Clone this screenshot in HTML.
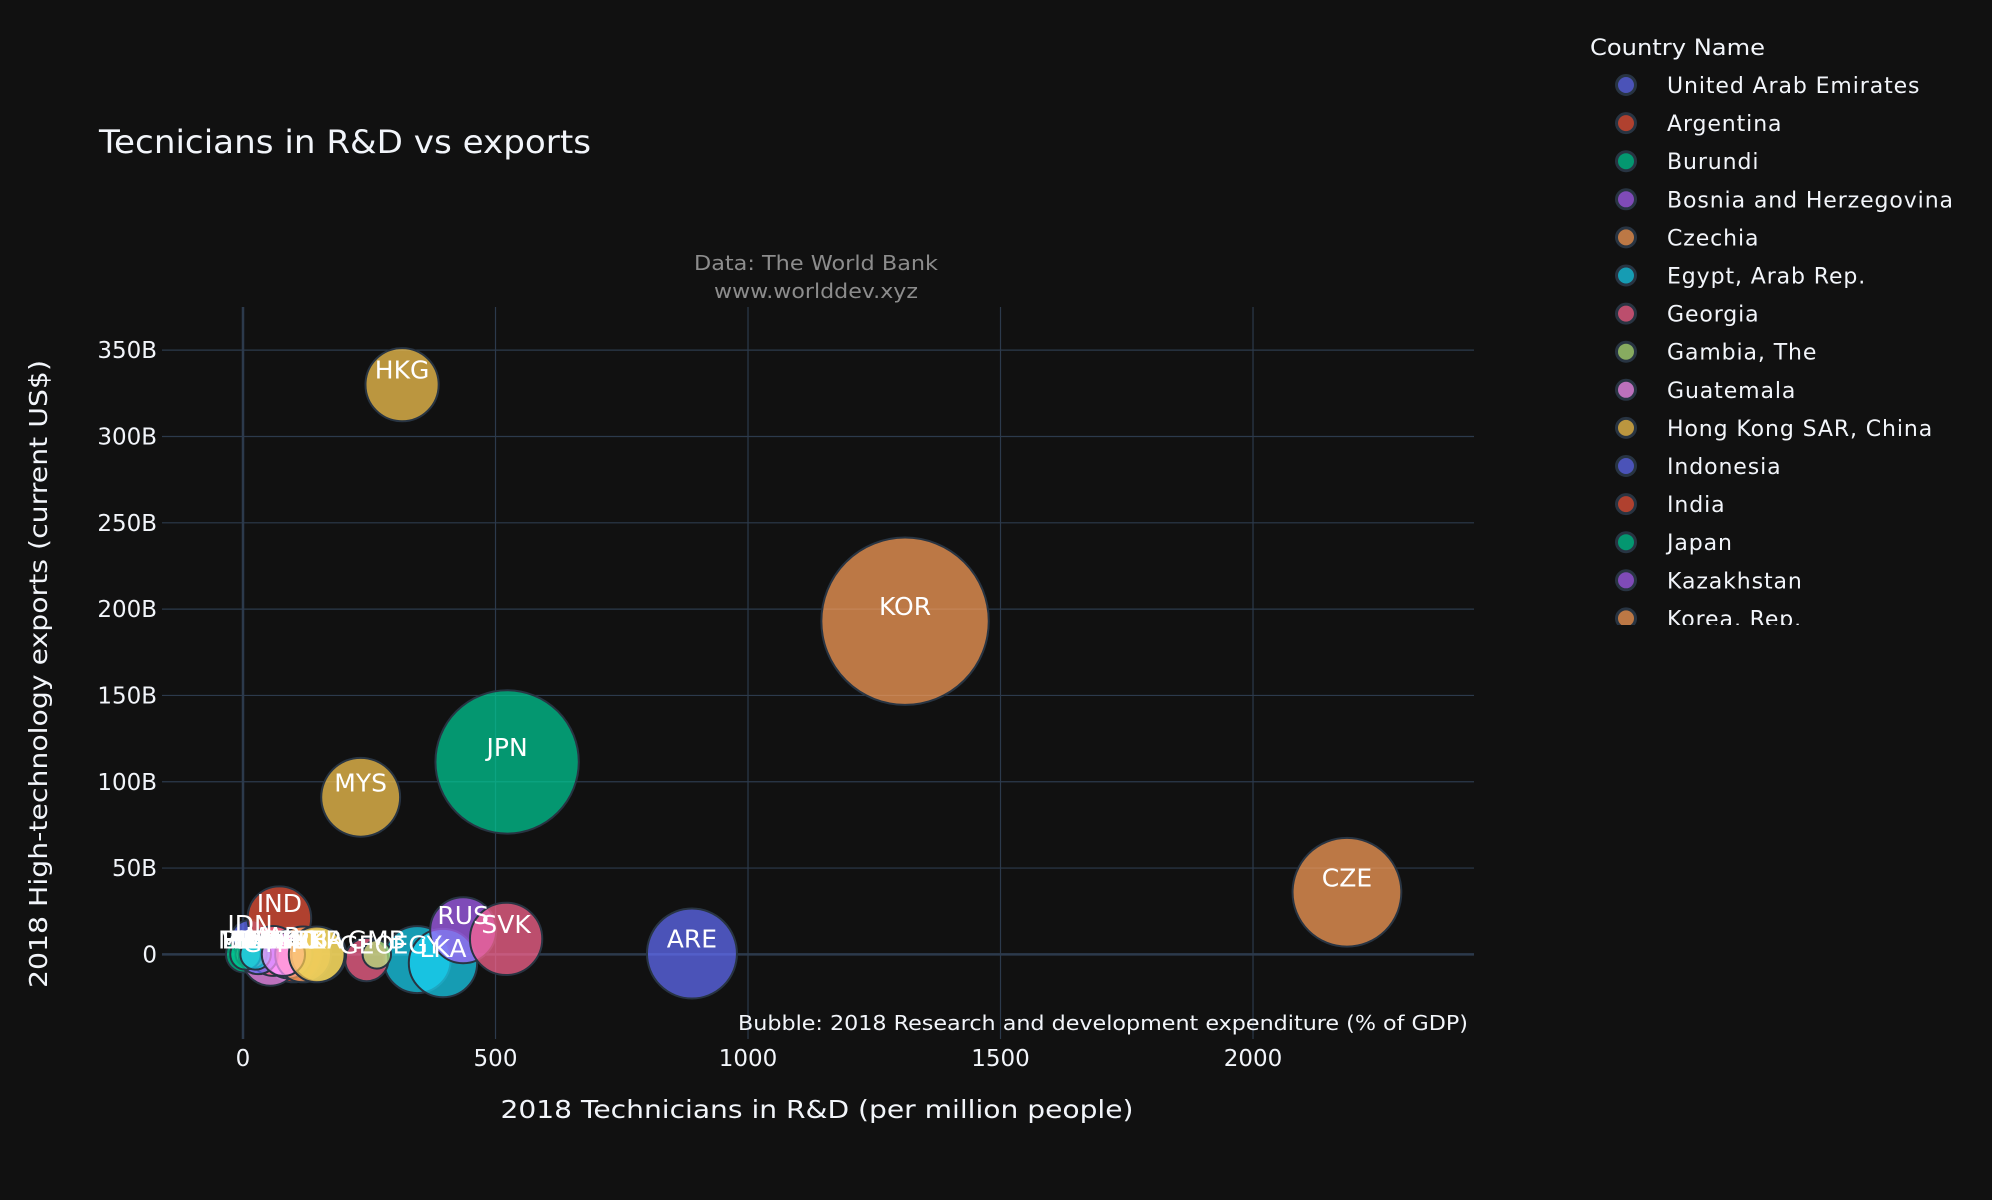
<!DOCTYPE html>
<html><head><meta charset="utf-8"><style>
html,body{margin:0;padding:0;background:#111111;}
svg{display:block;font-family:"DejaVu Sans","Liberation Sans",sans-serif;}
</style></head><body>
<svg id="chart" width="1992" height="1200" viewBox="0 0 1992 1200" xmlns="http://www.w3.org/2000/svg">
<rect x="0" y="0" width="1992" height="1200" fill="#111111"/>
<g id="grid"></g>
<g id="marks"></g>
<g id="labels"></g>
<g id="axes"></g>
<text x="99" y="153" font-size="32" fill="#f2f5fa" textLength="492" lengthAdjust="spacingAndGlyphs">Tecnicians in R&amp;D vs exports</text>
<text x="816" y="270" font-size="20" fill="#8c8c8c" text-anchor="middle" textLength="244" lengthAdjust="spacingAndGlyphs">Data: The World Bank</text>
<text x="816" y="298" font-size="20" fill="#8c8c8c" text-anchor="middle" textLength="204" lengthAdjust="spacingAndGlyphs">www.worlddev.xyz</text>
<text x="1468" y="1030" font-size="20" fill="#f2f5fa" text-anchor="end" textLength="730" lengthAdjust="spacingAndGlyphs">Bubble: 2018 Research and development expenditure (% of GDP)</text>
<text x="817" y="1118" font-size="25" fill="#f2f5fa" text-anchor="middle" textLength="633" lengthAdjust="spacingAndGlyphs">2018 Technicians in R&amp;D (per million people)</text>
<text transform="translate(47,674) rotate(-90)" font-size="25" fill="#f2f5fa" text-anchor="middle" textLength="628" lengthAdjust="spacingAndGlyphs">2018 High-technology exports (current US$)</text>
<text x="1590" y="55" font-size="22" fill="#f2f5fa" textLength="175" lengthAdjust="spacingAndGlyphs">Country Name</text>
<defs><clipPath id="legclip"><rect x="1580" y="62" width="412" height="563"/></clipPath></defs>
<g id="legend" clip-path="url(#legclip)"></g>
</svg>
<script>
const codes = ["ARE","ARG","BDI","BIH","CZE","EGY","GEO","GMB","GTM","HKG","IDN","IND","JPN","KAZ","KOR","LKA","MAR","MDG","MKD","MYS","PAK","PER","PHL","RUS","SRB","SLV","SVK","THA","TUN","UKR"];
const names = ["United Arab Emirates","Argentina","Burundi","Bosnia and Herzegovina","Czechia","Egypt, Arab Rep.","Georgia","Gambia, The","Guatemala","Hong Kong SAR, China","Indonesia","India","Japan","Kazakhstan","Korea, Rep.","Sri Lanka","Morocco","Madagascar","North Macedonia","Malaysia","Pakistan","Peru","Philippines","Russian Federation","Serbia","El Salvador","Slovak Republic","Thailand","Tunisia","Ukraine"];
const technicians = [889,100,2,48,2186,345,245,265,54,315,14,72,523,48,1311,396,60,10,90,233,30,20,5,436,119,25,521,150,80,146];
const exportsB = [0.5,0,0,0,36,-3,-3,0,-2,330,9,21,111.5,0,193,-5,2,0,0,91,0,0,0,14,0,0,9,0,0,0];
const rdExpend = [1.3,0.5,0.21,0.2,1.9,0.72,0.3,0.13,0.5,0.86,0.23,0.65,3.3,0.12,4.5,0.75,0.4,0.1,0.37,1.0,0.25,0.12,0.15,0.7,0.5,0.15,0.84,0.48,0.3,0.5];
const xTicks = [0,500,1000,1500,2000];
const yTicks = [0,50,100,150,200,250,300,350];
const yTickLabels = ["0","50B","100B","150B","200B","250B","300B","350B"];
const palette = ["#636efa","#EF553B","#00cc96","#ab63fa","#FFA15A","#19d3f3","#FF6692","#B6E880","#FF97FF","#FECB52"];

const NS="http://www.w3.org/2000/svg";
const L=162,R=1474,T=307,B=1039;
const xMin=-160.4,xMax=2437.6,yMin=-49,yMax=375;
function sx(v){return L+(v-xMin)/(xMax-xMin)*(R-L);}
function sy(v){return B-(v-yMin)/(yMax-yMin)*(B-T);}
const maxR=83.7, maxS=Math.max(...rdExpend);
function sr(v){return maxR*Math.sqrt(v/maxS);}
function mk(tag,attrs,parent){const e=document.createElementNS(NS,tag);for(const k in attrs)e.setAttribute(k,attrs[k]);parent.appendChild(e);return e;}

const grid=document.getElementById('grid');
xTicks.forEach((t,i)=>{
  const ln=mk('line',{x1:sx(t),x2:sx(t),y1:T,y2:B,stroke:'#2c3a4c','stroke-width':t===0?2.5:1.2},grid);
  
  
});
yTicks.forEach((t,i)=>{
  const ln=mk('line',{x1:L,x2:R,y1:sy(t),y2:sy(t),stroke:'#2c3a4c','stroke-width':t===0?2.5:1.2},grid);
  
  
});
const axes=document.getElementById('axes');
xTicks.forEach((t,i)=>{
  const tx=mk('text',{x:sx(t),y:1066,'font-size':23,fill:'#f2f5fa','text-anchor':'middle'},axes);
  tx.textContent=String(t);
  
  
});
yTicks.forEach((t,i)=>{
  const tx=mk('text',{x:157,y:sy(t)+8,'font-size':23,fill:'#f2f5fa','text-anchor':'end'},axes);
  tx.textContent=yTickLabels[i];
  
  
});
const marks=document.getElementById('marks'),labels=document.getElementById('labels');
codes.forEach((c,i)=>{
  const col=palette[i%10];
  const cx=sx(technicians[i]),cy=sy(exportsB[i]);
  const ci=mk('circle',{cx:cx,cy:cy,r:sr(rdExpend[i]),fill:col,'fill-opacity':0.72,stroke:'#283442','stroke-width':2},marks);
  
  
  const tx=mk('text',{x:cx,y:cy-6,'font-size':25,fill:'#ffffff','text-anchor':'middle'},labels);
  tx.textContent=c;
  
  
});
const leg=document.getElementById('legend');
names.forEach((n,i)=>{
  const y=85+i*38.1;
  const g=mk('g',{},leg);
  
  
  mk('circle',{cx:1626,cy:y,r:9.5,fill:palette[i%10],'fill-opacity':0.72,stroke:'#283442','stroke-width':3},g);
  const tx=mk('text',{x:1667,y:y+8,'font-size':22,'letter-spacing':0.9,fill:'#f2f5fa'},g);
  tx.textContent=n;
});
</script>
</body></html>
